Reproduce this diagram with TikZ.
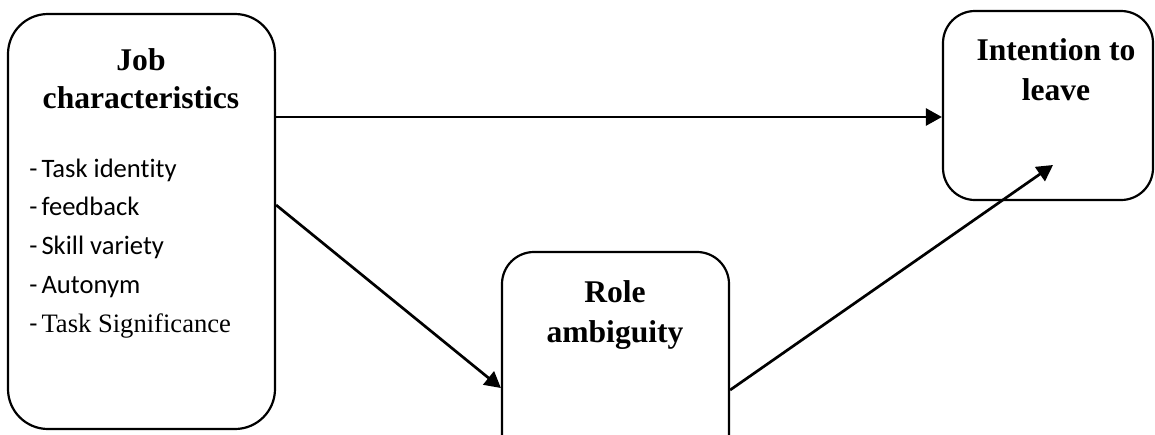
\documentclass[tikz,border=0pt]{standalone}
\usepackage{fontspec}
\setmainfont{Liberation Serif}
\newfontfamily\calib[Ligatures={NoCommon}]{Carlito}
\usetikzlibrary{arrows.meta}
\newcommand{\dsh}{{\calib -}\kern2pt}
\tikzset{
  box/.style={draw=black, line width=1.1pt, rounded corners=#1, inner sep=0pt},
  head/.style={anchor=base, inner sep=0pt, font=\fontsize{15.8pt}{19pt}\selectfont\bfseries},
  item/.style={anchor=base west, inner sep=0pt, font=\fontsize{13.3pt}{16pt}\selectfont},
  arr/.style={line width=1.35pt, -{Triangle[length=8pt,width=8.5pt]}}
}
\begin{document}
\begin{tikzpicture}[x=0.5pt,y=-0.5pt]
\useasboundingbox (0,0) rectangle (1155,434);
\clip (0,0) rectangle (1155,434);
% boxes
\node[box=20pt, minimum width=133.5pt, minimum height=207.5pt] (jc) at (141.5,221.5) {};
\node[box=16pt, minimum width=113.5pt, minimum height=109pt] (ra) at (615.5,361) {};
\node[box=16pt, minimum width=105pt, minimum height=94.5pt] (il) at (1048,105.5) {};
% headings
\node[head] (jc1) at (141,70) {Job};
\node[head] (jc2) at (141,108) {characteristics};
\node[head] (ra1) at (615,302) {Role};
\node[head] (ra2) at (615,342) {ambiguity};
\node[head] (il1) at (1056,60) {Intention to};
\node[head] (il2) at (1056,100) {leave};
% list
\node[item] (l1) at (29,177) {\dsh{\calib Task identity}};
\node[item] (l2) at (29,215) {\dsh{\calib feedback}};
\node[item] (l3) at (29,254) {\dsh{\calib Skill variety}};
\node[item] (l4) at (29,293) {\dsh{\calib Autonym}};
\node[item] (l5) at (29,332) {\dsh Task Significance};
% arrows
\draw[arr] ([yshift=52.25pt]jc.east) -- ([yshift=-5.75pt]il.west);
\draw[arr] ([yshift=8.25pt]jc.east) -- ([yshift=-13.5pt]ra.west);
\draw[arr] ([yshift=-14.5pt]ra.east) -- ([xshift=2.5pt,yshift=-29.75pt]il.center);
\end{tikzpicture}
\end{document}
